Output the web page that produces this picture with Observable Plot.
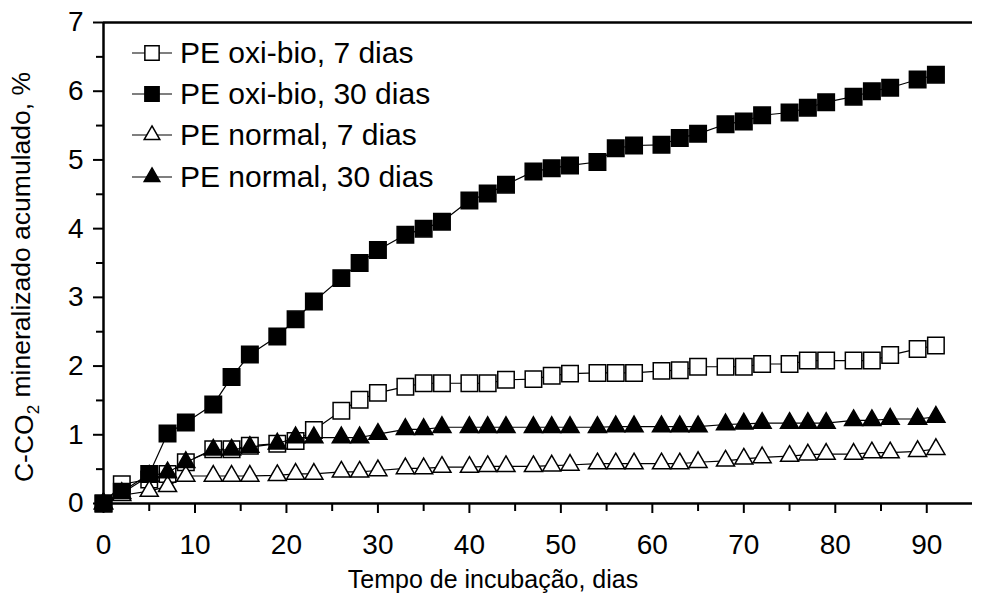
<!DOCTYPE html>
<html>
<head>
<meta charset="utf-8">
<script src="https://cdn.jsdelivr.net/npm/d3@7"></script>
<script src="https://cdn.jsdelivr.net/npm/@observablehq/plot@0.6"></script>
<style>
  body { margin: 0; background: #fff; }
  #wrap { position: relative; width: 1005px; height: 607px; font-family: "Liberation Sans", Arial, sans-serif; }
  #legend { position: absolute; left: 130px; top: 32px; }
  .row { display: flex; align-items: center; height: 41.3px; }
  .row span { font-size: 30px; color: #000; margin-left: 6px; line-height: 1; }
</style>
</head>
<body>
<div id="wrap"></div>
<script>
const days = [0,2,5,7,9,12,14,16,19,21,23,26,28,30,33,35,37,40,42,44,47,49,51,54,56,58,61,63,65,68,70,72,75,77,79,82,84,86,89,91];
const oxiBio7 = [0,0.28,0.35,0.43,0.60,0.79,0.79,0.84,0.87,0.91,1.07,1.35,1.51,1.61,1.70,1.75,1.75,1.75,1.75,1.80,1.81,1.86,1.89,1.90,1.90,1.90,1.93,1.94,1.99,1.99,1.99,2.03,2.03,2.08,2.08,2.08,2.08,2.16,2.25,2.30];
const oxiBio30 = [0,0.17,0.43,1.02,1.18,1.44,1.84,2.17,2.43,2.68,2.94,3.28,3.50,3.69,3.91,4.00,4.10,4.41,4.51,4.64,4.83,4.88,4.92,4.97,5.17,5.21,5.22,5.32,5.38,5.52,5.56,5.65,5.69,5.76,5.84,5.92,6.00,6.05,6.17,6.24];
const normal7 = [0,0.12,0.18,0.25,0.40,0.40,0.40,0.40,0.41,0.43,0.43,0.46,0.46,0.48,0.51,0.51,0.53,0.53,0.54,0.54,0.54,0.55,0.56,0.58,0.58,0.58,0.58,0.58,0.60,0.62,0.65,0.67,0.69,0.71,0.72,0.72,0.74,0.74,0.76,0.79];
const normal30 = [0,0.15,0.40,0.45,0.60,0.78,0.78,0.82,0.87,0.96,0.96,0.96,0.96,1.01,1.08,1.08,1.11,1.11,1.11,1.11,1.11,1.11,1.11,1.11,1.12,1.12,1.12,1.12,1.12,1.15,1.16,1.17,1.17,1.17,1.17,1.21,1.21,1.23,1.23,1.26];

const seriesNames = ["PE oxi-bio, 7 dias", "PE oxi-bio, 30 dias", "PE normal, 7 dias", "PE normal, 30 dias"];
const seriesValues = [oxiBio7, oxiBio30, normal7, normal30];
const seriesSymbol = ["square", "square", "triangle", "triangle"];
const seriesFill = ["white", "black", "white", "black"];
const seriesR = [9.3, 9.3, 6.7, 6.7];

const xTicks = d3.range(0, 91, 10);
const xMinor = d3.range(5, 90, 10);
const yTicks = d3.range(0, 8, 1);
const yMinor = d3.range(0.5, 7, 1);
const xDomain = [0, 95];
const yDomain = [0, 7];

const rows = seriesNames.flatMap((name, s) => days.map((d, i) => ({series: name, s, day: d, value: seriesValues[s][i]})));

const marks = [];
marks.push(Plot.axisX({ticks: xMinor, tickSize: 8, text: null, strokeWidth: 2}));
marks.push(Plot.axisX({ticks: xTicks, tickSize: 10, tickPadding: 21, fontSize: 28, strokeWidth: 2, label: null, tickFormat: d => String(d)}));
marks.push(Plot.axisY({ticks: yMinor, tickSize: 7, text: null, strokeWidth: 2}));
marks.push(Plot.axisY({ticks: yTicks, tickSize: 10, tickPadding: 10, fontSize: 28, strokeWidth: 2, label: null, tickFormat: d => String(d)}));
marks.push(Plot.ruleY([yDomain[0]], {stroke: "black", strokeWidth: 2.5}));
marks.push(Plot.ruleY([yDomain[1]], {stroke: "black", strokeWidth: 2.5}));
marks.push(Plot.ruleX([xDomain[0]], {stroke: "black", strokeWidth: 2.5}));
seriesNames.forEach((name, s) => {
  const data = rows.filter(r => r.s === s);
  marks.push(Plot.line(data, {x: "day", y: "value", stroke: "black", strokeWidth: 1.2}));
  marks.push(Plot.dot(data, {x: "day", y: "value", symbol: () => seriesSymbol[s], r: seriesR[s], fill: seriesFill[s], stroke: "black", strokeWidth: 1.5}));
});

const chart = Plot.plot({
  width: 1005,
  height: 607,
  marginLeft: 103,
  marginRight: 33,
  marginTop: 22,
  marginBottom: 104,
  style: {fontFamily: "'Liberation Sans', Arial, sans-serif", fontSize: "28px", color: "black", background: "white", overflow: "visible"},
  x: {domain: xDomain, label: null},
  y: {domain: yDomain, label: null},
  symbol: {type: "identity"},
  marks
});
document.getElementById("wrap").appendChild(chart);

const svg = d3.select(chart);
svg.selectAll("text").attr("fill", "black");
const yl = svg.append("text")
  .attr("transform", "translate(33,277) rotate(-90)")
  .attr("text-anchor", "middle")
  .attr("font-size", 26.5)
  .attr("fill", "black");
yl.append("tspan").text("C-CO");
yl.append("tspan").attr("font-size", 17).attr("dy", "0.35em").text("2");
yl.append("tspan").attr("dy", "-0.35em").text(" mineralizado acumulado, %");

svg.append("text")
  .attr("x", 493).attr("y", 588)
  .attr("text-anchor", "middle")
  .attr("font-size", 25)
  .attr("fill", "black")
  .text("Tempo de incubação, dias");

// legend
const legend = document.createElement("div");
legend.id = "legend";
seriesNames.forEach((name, s) => {
  const row = document.createElement("div");
  row.className = "row";
  const ns = "http://www.w3.org/2000/svg";
  const sv = document.createElementNS(ns, "svg");
  sv.setAttribute("width", 44); sv.setAttribute("height", 30);
  const line = document.createElementNS(ns, "line");
  line.setAttribute("x1", 2); line.setAttribute("x2", 42); line.setAttribute("y1", 15); line.setAttribute("y2", 15);
  line.setAttribute("stroke", "black"); line.setAttribute("stroke-width", 1.2);
  sv.appendChild(line);
  const sym = document.createElementNS(ns, "path");
  const type = seriesSymbol[s] === "square" ? d3.symbolSquare : d3.symbolTriangle;
  sym.setAttribute("d", d3.symbol(type, Math.PI * seriesR[s] * seriesR[s] * 0.75)());
  sym.setAttribute("transform", "translate(22,15)");
  sym.setAttribute("fill", seriesFill[s]); sym.setAttribute("stroke", "black"); sym.setAttribute("stroke-width", 1.5);
  sv.appendChild(sym);
  row.appendChild(sv);
  const t = document.createElement("span");
  t.textContent = name;
  row.appendChild(t);
  legend.appendChild(row);
});
document.getElementById("wrap").appendChild(legend);
</script>
</body>
</html>
